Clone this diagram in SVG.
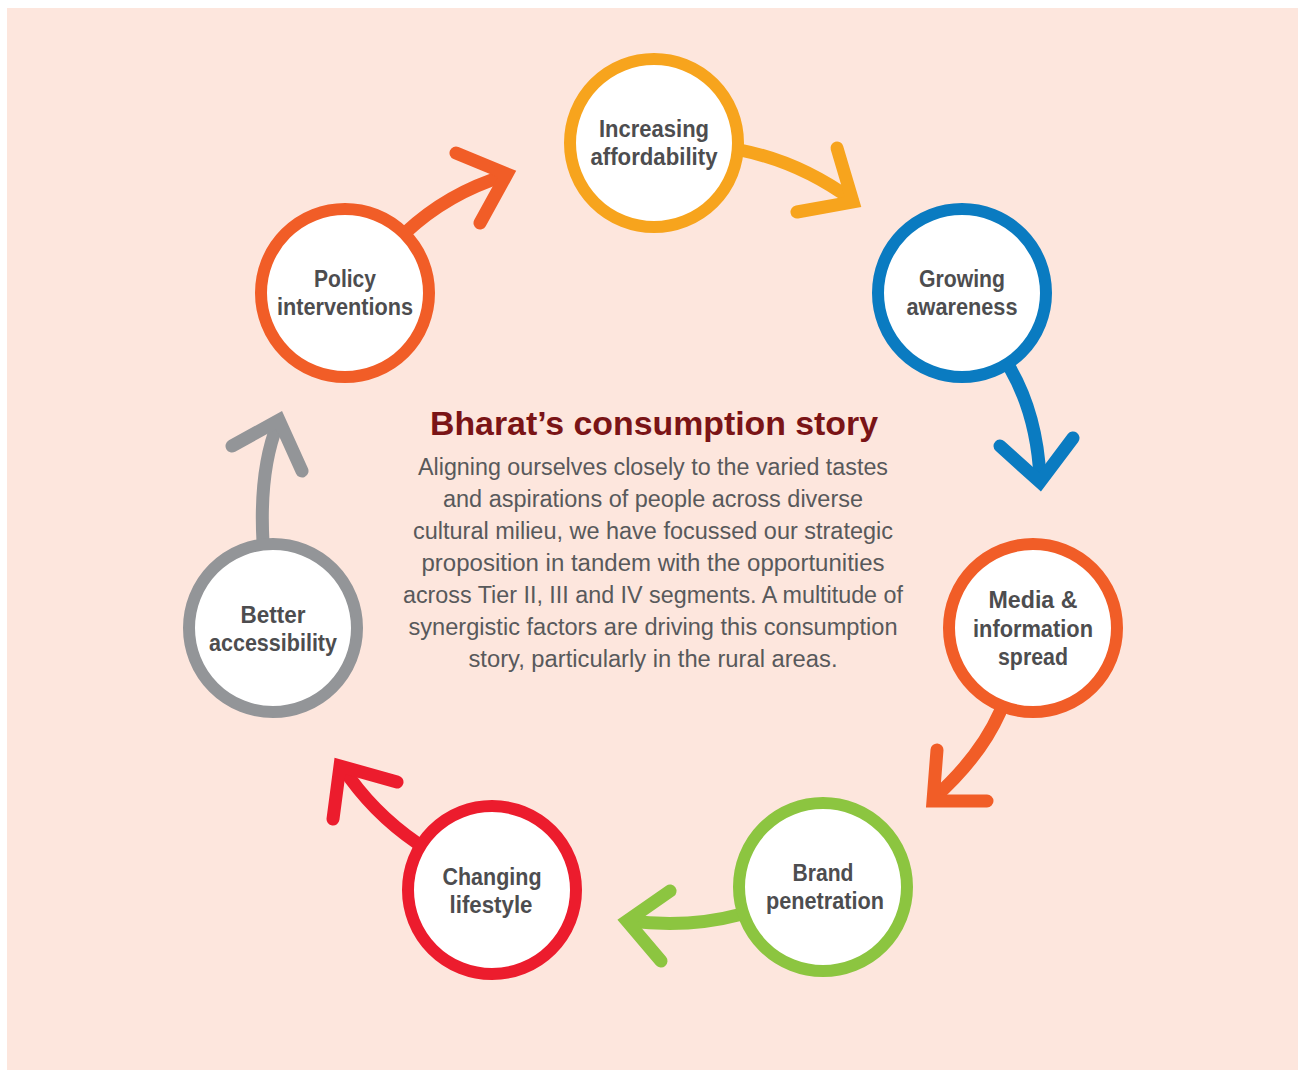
<svg xmlns="http://www.w3.org/2000/svg" width="1298" height="1070" viewBox="0 0 1298 1070">
<style>
.ring{fill:#fff;stroke-width:12}
.lbl{font-family:"Liberation Sans",Arial,sans-serif;font-weight:bold;font-size:23px;fill:#4d4d4f;text-anchor:middle}
.arr{fill:none;stroke-width:13;stroke-linecap:round;stroke-linejoin:miter}
.title{font-family:"Liberation Sans",Arial,sans-serif;font-weight:bold;font-size:33px;fill:#7a1416;text-anchor:middle}
.body{font-family:"Liberation Sans",Arial,sans-serif;font-size:23px;fill:#58595b;text-anchor:middle}
</style>
<rect x="0" y="0" width="1298" height="1070" fill="#ffffff"/>
<rect x="7" y="8" width="1291" height="1062" fill="#fde6dd"/>
<g id="connectors">
<g stroke="#f7a41d" class="arr"><path class="arr" stroke="#f7a41d" d="M740,150 Q800,162 852,200"/><polyline class="arr" stroke="#f7a41d" points="837,148 853,202 797,212"/></g>
<g><path class="arr" stroke="#0a7bc1" d="M1010,368 Q1037,415 1040,478"/><polyline class="arr" stroke="#0a7bc1" points="1000,446 1040,482 1073,438"/></g>
<g><path class="arr" stroke="#f15d27" d="M1000,712 Q980,757 934,798"/><polyline class="arr" stroke="#f15d27" points="937,750 933,801 987,801"/></g>
<g><path class="arr" stroke="#8cc540" d="M738,915 Q690,928 628,921"/><polyline class="arr" stroke="#8cc540" points="670,891 627,921 661,961"/></g>
<g><path class="arr" stroke="#ec1c2d" d="M417,843 Q372,812 343,768"/><polyline class="arr" stroke="#ec1c2d" points="397,782 340,766 333,819"/></g>
<g><path class="arr" stroke="#939598" d="M263,542 Q259,470 278,423"/><polyline class="arr" stroke="#939598" points="232,446 279,420 302,471"/></g>
<g><path class="arr" stroke="#f15d27" d="M405,233 Q448,193 504,176"/><polyline class="arr" stroke="#f15d27" points="456,153 507,174 480,223"/></g>
</g>
<g id="node-affordability"><circle class="ring" cx="654" cy="143" r="84" stroke="#f7a41d"/><text class="lbl" x="654" y="137" textLength="110" lengthAdjust="spacingAndGlyphs">Increasing</text><text class="lbl" x="654" y="165" textLength="127" lengthAdjust="spacingAndGlyphs">affordability</text></g>
<g id="node-awareness"><circle class="ring" cx="962" cy="293" r="84" stroke="#0a7bc1"/><text class="lbl" x="962" y="287" textLength="86" lengthAdjust="spacingAndGlyphs">Growing</text><text class="lbl" x="962" y="315" textLength="111" lengthAdjust="spacingAndGlyphs">awareness</text></g>
<g id="node-media"><circle class="ring" cx="1033" cy="628" r="84" stroke="#f15d27"/><text class="lbl" x="1033" y="608" textLength="89" lengthAdjust="spacingAndGlyphs">Media &amp;</text><text class="lbl" x="1033" y="637" textLength="120" lengthAdjust="spacingAndGlyphs">information</text><text class="lbl" x="1033" y="665" textLength="70" lengthAdjust="spacingAndGlyphs">spread</text></g>
<g id="node-brand"><circle class="ring" cx="823" cy="887" r="84" stroke="#8cc540"/><text class="lbl" x="823" y="881" textLength="61" lengthAdjust="spacingAndGlyphs">Brand</text><text class="lbl" x="825" y="909" textLength="118" lengthAdjust="spacingAndGlyphs">penetration</text></g>
<g id="node-lifestyle"><circle class="ring" cx="492" cy="890" r="84" stroke="#ec1c2d"/><text class="lbl" x="492" y="885" textLength="99" lengthAdjust="spacingAndGlyphs">Changing</text><text class="lbl" x="491" y="913" textLength="83" lengthAdjust="spacingAndGlyphs">lifestyle</text></g>
<g id="node-accessibility"><circle class="ring" cx="273" cy="628" r="84" stroke="#939598"/><text class="lbl" x="273" y="623" textLength="65" lengthAdjust="spacingAndGlyphs">Better</text><text class="lbl" x="273" y="651" textLength="128" lengthAdjust="spacingAndGlyphs">accessibility</text></g>
<g id="node-policy"><circle class="ring" cx="345" cy="293" r="84" stroke="#f15d27"/><text class="lbl" x="345" y="287" textLength="62" lengthAdjust="spacingAndGlyphs">Policy</text><text class="lbl" x="345" y="315" textLength="136" lengthAdjust="spacingAndGlyphs">interventions</text></g>
<g id="center-text">
<text class="title" x="654" y="435" textLength="448" lengthAdjust="spacingAndGlyphs">Bharat’s consumption story</text>
<text class="body" x="653" y="475" textLength="470" lengthAdjust="spacingAndGlyphs">Aligning ourselves closely to the varied tastes</text>
<text class="body" x="653" y="507" textLength="420" lengthAdjust="spacingAndGlyphs">and aspirations of people across diverse</text>
<text class="body" x="653" y="539" textLength="480" lengthAdjust="spacingAndGlyphs">cultural milieu, we have focussed our strategic</text>
<text class="body" x="653" y="571" textLength="463" lengthAdjust="spacingAndGlyphs">proposition in tandem with the opportunities</text>
<text class="body" x="653" y="603" textLength="500" lengthAdjust="spacingAndGlyphs">across Tier II, III and IV segments. A multitude of</text>
<text class="body" x="653" y="635" textLength="489" lengthAdjust="spacingAndGlyphs">synergistic factors are driving this consumption</text>
<text class="body" x="653" y="667" textLength="369" lengthAdjust="spacingAndGlyphs">story, particularly in the rural areas.</text>
</g>
</svg>
